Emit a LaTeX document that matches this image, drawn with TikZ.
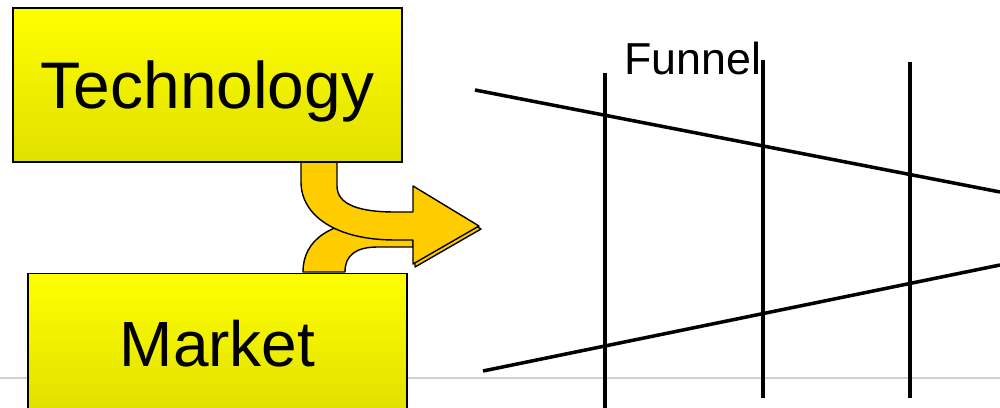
\documentclass[tikz,border=0pt]{standalone}
\usepackage{fontspec}
\setmainfont{Liberation Sans}
\usetikzlibrary{positioning}
\definecolor{boxyellow}{HTML}{FFFF00}
\definecolor{boxyellowdark}{HTML}{E0E000}
\definecolor{arrowgold}{HTML}{FFCC00}
\definecolor{rulegray}{HTML}{D0D0D0}

\begin{document}
\begin{tikzpicture}[
    x=0.02cm, y=-0.02cm,
    box/.style={rectangle, draw=black, line width=0.8pt, inner sep=0pt,
                top color=boxyellow, bottom color=boxyellowdark,
                text depth=0pt, font=\fontsize{36.4}{40}\selectfont},
    band/.style={fill=arrowgold, draw=black, line width=0.8pt, line join=round},
    funnelline/.style={line width=2pt},
    rule/.style={draw=rulegray, line width=1.1pt}
]
\useasboundingbox (0,0) rectangle (1000,408);
\clip (0,0) rectangle (1000,408);

%% Slide rule behind everything
\draw[rule] (0,378) -- (1000,378);

%% Curved arrow: lower band (from Market)
\draw[band] (303,272) .. controls (303,240) and (330,221) .. (380,220)
    -- (413,220) -- (413,247) -- (378,247)
    .. controls (356,247) and (345,255) .. (345,272) -- cycle;

%% Arrowhead shadow
\draw[band] (415,189) -- (481,229) -- (415,267) -- cycle;

%% Curved arrow: upper band (from Technology)
\draw[band] (301,162) -- (337,162) -- (337,186)
    .. controls (337,205) and (360,212) .. (395,212)
    -- (413,212) -- (413,186) -- (479,226) -- (413,264) -- (413,240)
    -- (395,240) .. controls (335,240) and (301,215) .. (301,182) -- cycle;

%% Boxes
\node[box, minimum width=7.78cm, minimum height=3.08cm,
      font=\fontsize{37.5}{40}\selectfont] (tech) at (207.5,85) {Technology};
\node[box, minimum width=7.58cm, minimum height=2.78cm,
      below=2.2cm of tech, xshift=0.2cm] (market) {Market};

%% Funnel
\node[anchor=base, inner sep=0pt, font=\fontsize{25.5}{28}\selectfont] (funnel) at (693,75) {Funnel};
\draw[funnelline] (475,90) -- (1000,192);
\draw[funnelline] (483,371) -- (1000,265);
\draw[funnelline] (605,73) -- (605,408);
\draw[funnelline] (763,60) -- (763,398);
\draw[funnelline] (910,62) -- (910,398);

\end{tikzpicture}
\end{document}
